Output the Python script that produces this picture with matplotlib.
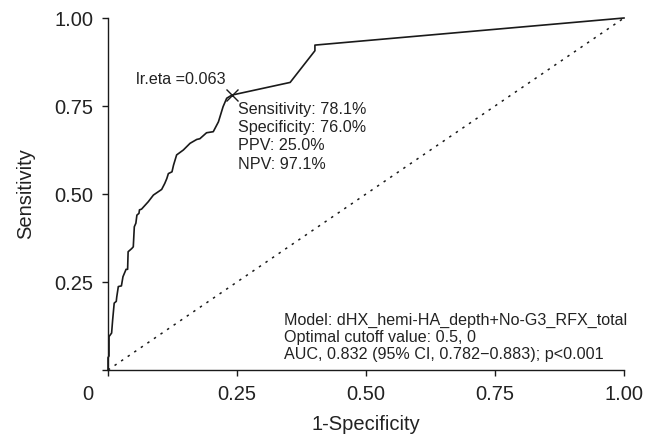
import matplotlib
matplotlib.use("Agg")
import matplotlib.pyplot as plt
from matplotlib.transforms import ScaledTranslation

plt.rcParams['font.family'] = ['Liberation Sans', 'DejaVu Sans']

# ROC curve (1-Specificity, Sensitivity)
fpr = [0.000, 0.000, 0.002, 0.002, 0.007, 0.009, 0.012, 0.016, 0.017, 0.020,
       0.026, 0.029, 0.035, 0.038, 0.039, 0.046, 0.049, 0.051, 0.054, 0.056,
       0.060, 0.061, 0.065, 0.078, 0.088, 0.104, 0.110, 0.114, 0.117, 0.124,
       0.127, 0.133, 0.146, 0.159, 0.172, 0.178, 0.191, 0.204, 0.214, 0.223,
       0.230, 0.240, 0.353, 0.401, 0.401, 1.000]
tpr = [0.000, 0.035, 0.040, 0.095, 0.105, 0.142, 0.190, 0.195, 0.208, 0.237,
       0.239, 0.265, 0.286, 0.286, 0.336, 0.345, 0.350, 0.407, 0.417, 0.440,
       0.445, 0.455, 0.457, 0.478, 0.497, 0.513, 0.530, 0.544, 0.558, 0.563,
       0.582, 0.611, 0.625, 0.644, 0.655, 0.657, 0.674, 0.677, 0.705, 0.748,
       0.772, 0.781, 0.817, 0.907, 0.923, 1.000]

ref_x = [0, 1]
ref_y = [0, 1]

opt_x = 0.240
opt_y = 0.781

ticks = [0, 0.25, 0.50, 0.75, 1.00]
xtick_labels = ["0", "0.25", "0.50", "0.75", "1.00"]
ytick_labels = ["", "0.25", "0.50", "0.75", "1.00"]

opt_label = "lr.eta =0.063"
metrics = ["Sensitivity: 78.1%", "Specificity: 76.0%", "PPV: 25.0%", "NPV: 97.1%"]
model_lines = ["Model: dHX_hemi-HA_depth+No-G3_RFX_total",
               "Optimal cutoff value: 0.5, 0",
               "AUC, 0.832 (95% CI, 0.782\u22120.883); p<0.001"]

fig = plt.figure(figsize=(6.56, 4.37), dpi=100)
ax = fig.add_axes([108/656, 1-370/437, 516/656, 352/437])

ink = '#1a1a1a'
ax.plot(fpr, tpr, color=ink, lw=1.2, clip_on=False, zorder=3)
ax.plot(ref_x, ref_y, color=ink, lw=1.1, linestyle=(0, (1.6, 3.6)), clip_on=False)
ax.plot([opt_x], [opt_y], marker='x', color=ink, markersize=8.5, mew=1.0,
        linestyle='none', clip_on=False, zorder=4)

ax.set_xlim(0, 1)
ax.set_ylim(0, 1)
for s in ['top', 'right']:
    ax.spines[s].set_visible(False)
for s in ['left', 'bottom']:
    ax.spines[s].set_color(ink)
    ax.spines[s].set_linewidth(1.0)

ax.set_xticks(ticks)
ax.set_xticklabels(xtick_labels)
ax.set_yticks(ticks)
ax.set_yticklabels(ytick_labels)
ax.tick_params(axis='both', direction='out', length=4.5, width=1.0, color=ink,
               labelsize=14.5, labelcolor='#222222', pad=6)

# shift the "0" label to the left as in the original
lab0 = ax.get_xticklabels()[0]
lab0.set_transform(lab0.get_transform() + ScaledTranslation(-20/100, 0, fig.dpi_scale_trans))

ax.set_xlabel("1-Specificity", fontsize=14.5, color='#222222')
ax.set_ylabel("Sensitivity", fontsize=14.5, color='#222222')
ax.xaxis.set_label_coords(0.5, -0.128)
ax.yaxis.set_label_coords(-0.142, 0.5)

tfs = 11.6
ax.text(0.227, 0.824, opt_label, ha='right', va='center', fontsize=tfs, color='#222222')
for i, line in enumerate(metrics):
    ax.text(0.252, 0.741 - i*0.052, line, ha='left', va='center', fontsize=tfs, color='#222222')
for i, line in enumerate(model_lines):
    ax.text(0.341, 0.142 - i*0.0485, line, ha='left', va='center', fontsize=tfs, color='#222222')

fig.savefig("out.png", dpi=100)
